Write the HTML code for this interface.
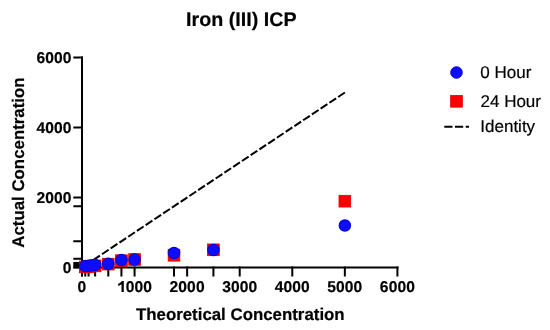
<!DOCTYPE html>
<html><head><meta charset="utf-8"><style>
html,body{margin:0;padding:0;background:#fff;width:550px;height:330px;overflow:hidden}
svg{display:block}
text{font-family:"Liberation Sans",sans-serif;fill:#000;stroke:#000;stroke-width:0.2px;text-rendering:geometricPrecision}
.title{font-size:19.7px;font-weight:bold}
.tl{font-size:15.6px;font-weight:bold;letter-spacing:0.1px}
.ax{font-size:16.85px;font-weight:bold}
.lg{font-size:17px}
.txt{filter:grayscale(1)}
</style></head><body>
<svg width="550" height="330" viewBox="0 0 550 330">
<rect width="550" height="330" fill="#fff"/>
<line x1="344.85" y1="92.50" x2="82.00" y2="267.50" stroke="#000" stroke-width="2" stroke-dasharray="8.05 2.46"/>
<rect x="81" y="56.5" width="2" height="220" fill="#000"/>
<rect x="81" y="266.5" width="317.5" height="2" fill="#000"/>
<rect x="73.3" y="266.50" width="9.7" height="2" fill="#000"/>
<rect x="73.3" y="196.50" width="9.7" height="2" fill="#000"/>
<rect x="73.3" y="126.50" width="9.7" height="2" fill="#000"/>
<rect x="73.3" y="56.50" width="9.7" height="2" fill="#000"/>
<rect x="73.3" y="257.75" width="9.7" height="2" fill="#000"/>
<rect x="73.3" y="240.25" width="9.7" height="2" fill="#000"/>
<rect x="73.3" y="205.25" width="9.7" height="2" fill="#000"/>
<rect x="73.3" y="262" width="9.7" height="6.3" fill="#000"/>
<rect x="81.00" y="266.5" width="2" height="10" fill="#000"/>
<rect x="133.57" y="266.5" width="2" height="10" fill="#000"/>
<rect x="186.14" y="266.5" width="2" height="10" fill="#000"/>
<rect x="238.71" y="266.5" width="2" height="10" fill="#000"/>
<rect x="291.28" y="266.5" width="2" height="10" fill="#000"/>
<rect x="343.85" y="266.5" width="2" height="10" fill="#000"/>
<rect x="396.42" y="266.5" width="2" height="10" fill="#000"/>
<rect x="84.29" y="266.5" width="2" height="10" fill="#000"/>
<rect x="87.57" y="266.5" width="2" height="10" fill="#000"/>
<rect x="94.14" y="266.5" width="2" height="10" fill="#000"/>
<rect x="107.28" y="266.5" width="2" height="10" fill="#000"/>
<rect x="120.43" y="266.5" width="2" height="10" fill="#000"/>
<rect x="173.00" y="266.5" width="2" height="10" fill="#000"/>
<rect x="212.42" y="266.5" width="2" height="10" fill="#000"/>
<rect x="339.00" y="195.33" width="11.7" height="11.7" fill="#ff0000" stroke="#e00000" stroke-width="0.8"/>
<rect x="207.57" y="243.97" width="11.7" height="11.7" fill="#ff0000" stroke="#e00000" stroke-width="0.8"/>
<rect x="168.15" y="249.40" width="11.7" height="11.7" fill="#ff0000" stroke="#e00000" stroke-width="0.8"/>
<rect x="128.72" y="253.67" width="11.7" height="11.7" fill="#ff0000" stroke="#e00000" stroke-width="0.8"/>
<rect x="115.58" y="254.83" width="11.7" height="11.7" fill="#ff0000" stroke="#e00000" stroke-width="0.8"/>
<rect x="102.44" y="258.29" width="11.7" height="11.7" fill="#ff0000" stroke="#e00000" stroke-width="0.8"/>
<rect x="89.29" y="260.07" width="11.7" height="11.7" fill="#ff0000" stroke="#e00000" stroke-width="0.8"/>
<rect x="82.72" y="260.77" width="11.7" height="11.7" fill="#ff0000" stroke="#e00000" stroke-width="0.8"/>
<rect x="79.44" y="261.12" width="11.7" height="11.7" fill="#ff0000" stroke="#e00000" stroke-width="0.8"/>
<circle cx="344.85" cy="225.50" r="6.25" fill="#0000d4"/>
<circle cx="213.42" cy="250.00" r="6.25" fill="#0000d4"/>
<circle cx="174.00" cy="253.01" r="6.25" fill="#0000d4"/>
<circle cx="134.57" cy="259.59" r="6.25" fill="#0000d4"/>
<circle cx="121.43" cy="260.08" r="6.25" fill="#0000d4"/>
<circle cx="108.28" cy="263.86" r="6.25" fill="#0000d4"/>
<circle cx="95.14" cy="264.91" r="6.25" fill="#0000d4"/>
<circle cx="91.99" cy="265.33" r="6.25" fill="#0000d4"/>
<circle cx="88.57" cy="265.75" r="6.25" fill="#0000d4"/>
<circle cx="85.29" cy="266.10" r="6.25" fill="#0000d4"/>
<circle cx="344.85" cy="225.50" r="5.35" fill="#0c0cff"/>
<circle cx="213.42" cy="250.00" r="5.35" fill="#0c0cff"/>
<circle cx="174.00" cy="253.01" r="5.35" fill="#0c0cff"/>
<circle cx="134.57" cy="259.59" r="5.35" fill="#0c0cff"/>
<circle cx="121.43" cy="260.08" r="5.35" fill="#0c0cff"/>
<circle cx="108.28" cy="263.86" r="5.35" fill="#0c0cff"/>
<circle cx="95.14" cy="264.91" r="5.35" fill="#0c0cff"/>
<circle cx="91.99" cy="265.33" r="5.35" fill="#0c0cff"/>
<circle cx="88.57" cy="265.75" r="5.35" fill="#0c0cff"/>
<circle cx="85.29" cy="266.10" r="5.35" fill="#0c0cff"/>
<circle cx="456.5" cy="72.5" r="5.8" fill="#0c0cff" stroke="#0000d4" stroke-width="0.9"/>
<rect x="450.65" y="95.45" width="11.7" height="11.7" fill="#ff0000" stroke="#e00000" stroke-width="0.8"/>
<line x1="444.3" y1="126.75" x2="469" y2="126.75" stroke="#000" stroke-width="2" stroke-dasharray="8.2 2.5"/>
<g class="txt">
<text x="71.6" y="272.50" text-anchor="end" class="tl">0</text>
<text x="71.6" y="202.50" text-anchor="end" class="tl">2000</text>
<text x="71.6" y="132.50" text-anchor="end" class="tl">4000</text>
<text x="71.6" y="62.50" text-anchor="end" class="tl">6000</text>
<text x="82.00" y="292" text-anchor="middle" class="tl">0</text>
<text x="125.80" y="292" class="tl">000</text>
<path transform="translate(0.7 0)" d="M123.1,292 L120.8,292 L120.8,284.3 Q119.4,285.4 117.5,285.9 L117.5,283.7 Q118.9,283.2 120,282.2 Q120.9,281.4 121.3,280.9 L123.1,280.9 Z" fill="#000"/>
<text x="187.14" y="292" text-anchor="middle" class="tl">2000</text>
<text x="239.71" y="292" text-anchor="middle" class="tl">3000</text>
<text x="292.28" y="292" text-anchor="middle" class="tl">4000</text>
<text x="344.85" y="292" text-anchor="middle" class="tl">5000</text>
<text x="397.42" y="292" text-anchor="middle" class="tl">6000</text>
<text x="241.3" y="26.3" text-anchor="middle" class="title">Iron (III) ICP</text>
<text x="240.3" y="319.6" text-anchor="middle" class="ax">Theoretical Concentration</text>
<text transform="translate(24.2 162.6) rotate(-90)" x="0" y="0" text-anchor="middle" class="ax">Actual Concentration</text>
<text x="480.3" y="77.6" class="lg">0 Hour</text>
<text x="480.5" y="107.1" class="lg">24 Hour</text>
<text x="480.3" y="132.2" class="lg">Identity</text>
</g>
</svg>
</body></html>
